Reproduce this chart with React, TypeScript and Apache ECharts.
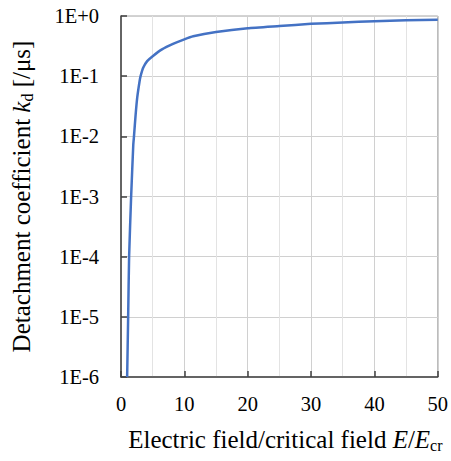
import React, { useEffect, useRef } from "react";
import * as echarts from "echarts";

const fieldRatio = [0.97, 1.13, 1.28, 1.6, 1.94, 2.05, 2.31, 2.56, 2.94, 3.09, 3.5, 4.13, 5.0, 6.47, 8.3, 10, 11.4, 15, 20, 25, 30, 35, 40, 45, 50];
const detachment = [1e-6, 1e-5, 1e-4, 1e-3, 0.0073, 0.01, 0.023, 0.044, 0.083, 0.1, 0.138, 0.178, 0.215, 0.279, 0.347, 0.41, 0.46, 0.54, 0.625, 0.68, 0.74, 0.78, 0.82, 0.85, 0.87];

const FONT = "Liberation Serif";

export default function App() {
  const ref = useRef<HTMLDivElement>(null);
  useEffect(() => {
    if (!ref.current) return;
    const chart = echarts.init(ref.current, null, { renderer: "svg" });
    const data = fieldRatio.map((x, i) => [x, detachment[i]]);
    const rich = {
      n: { fontFamily: FONT, fontSize: 25, color: "#000" },
      i: { fontFamily: FONT, fontSize: 25, fontStyle: "italic", color: "#000" },
      s: { fontFamily: FONT, fontSize: 16, color: "#000", padding: [11, 0, 0, 0] },
    };
    chart.setOption({
      animation: false,
      backgroundColor: "#ffffff",
      grid: {
        left: 121,
        top: 16,
        right: 11,
        bottom: 84,
        show: true,
        borderColor: "#a6a6a6",
        borderWidth: 1,
        backgroundColor: "transparent",
      },
      xAxis: {
        type: "value",
        min: 0,
        max: 50,
        interval: 10,
        minorTick: { show: false, splitNumber: 2 },
        minorSplitLine: { show: true, lineStyle: { color: "#e3e3e3", width: 1 } },
        splitLine: { show: true, lineStyle: { color: "#d0d0d0", width: 1 } },
        axisLine: { show: true, onZero: false, lineStyle: { color: "#404040", width: 1.5 } },
        axisTick: { show: true, inside: true, length: 6, lineStyle: { color: "#404040", width: 1.5 } },
        axisLabel: { margin: 16, fontFamily: FONT, fontSize: 20.5, color: "#000" },
        name: "{n|Electric field/critical field }{i|E}{n|/}{i|E}{s|cr}",
        nameLocation: "middle",
        nameGap: 49,
        nameTextStyle: { fontFamily: FONT, fontSize: 25, color: "#000", padding: [0, 0, 0, 12], rich },
      },
      yAxis: {
        type: "log",
        logBase: 10,
        min: 1e-6,
        max: 1,
        splitLine: { show: true, lineStyle: { color: "#d0d0d0", width: 1 } },
        axisLine: { show: true, lineStyle: { color: "#404040", width: 1.5 } },
        axisTick: { show: true, inside: true, length: 6, lineStyle: { color: "#404040", width: 1.5 } },
        minorTick: { show: false },
        axisLabel: {
          margin: 22,
          fontFamily: FONT,
          fontSize: 20.5,
          color: "#000",
          formatter: (v: number) => {
            const e = Math.round(Math.log10(v));
            return "1E" + (e >= 0 ? "+" : "") + e;
          },
        },
        name: "{n|Detachment coefficient }{i|k}{s|d}{n| [/μs]}",
        nameLocation: "middle",
        nameRotate: 90,
        nameGap: 86,
        nameTextStyle: { fontFamily: FONT, fontSize: 25, color: "#000", rich },
      },
      series: [
        {
          type: "line",
          data,
          showSymbol: false,
          smooth: 0.15,
          lineStyle: { color: "#4472c4", width: 2.5 },
          clip: true,
        },
      ],
    });
    return () => chart.dispose();
  }, []);
  return (
    <div
      ref={ref}
      style={{ position: "fixed", left: 0, top: 0, width: 451, height: 461 }}
    />
  );
}
